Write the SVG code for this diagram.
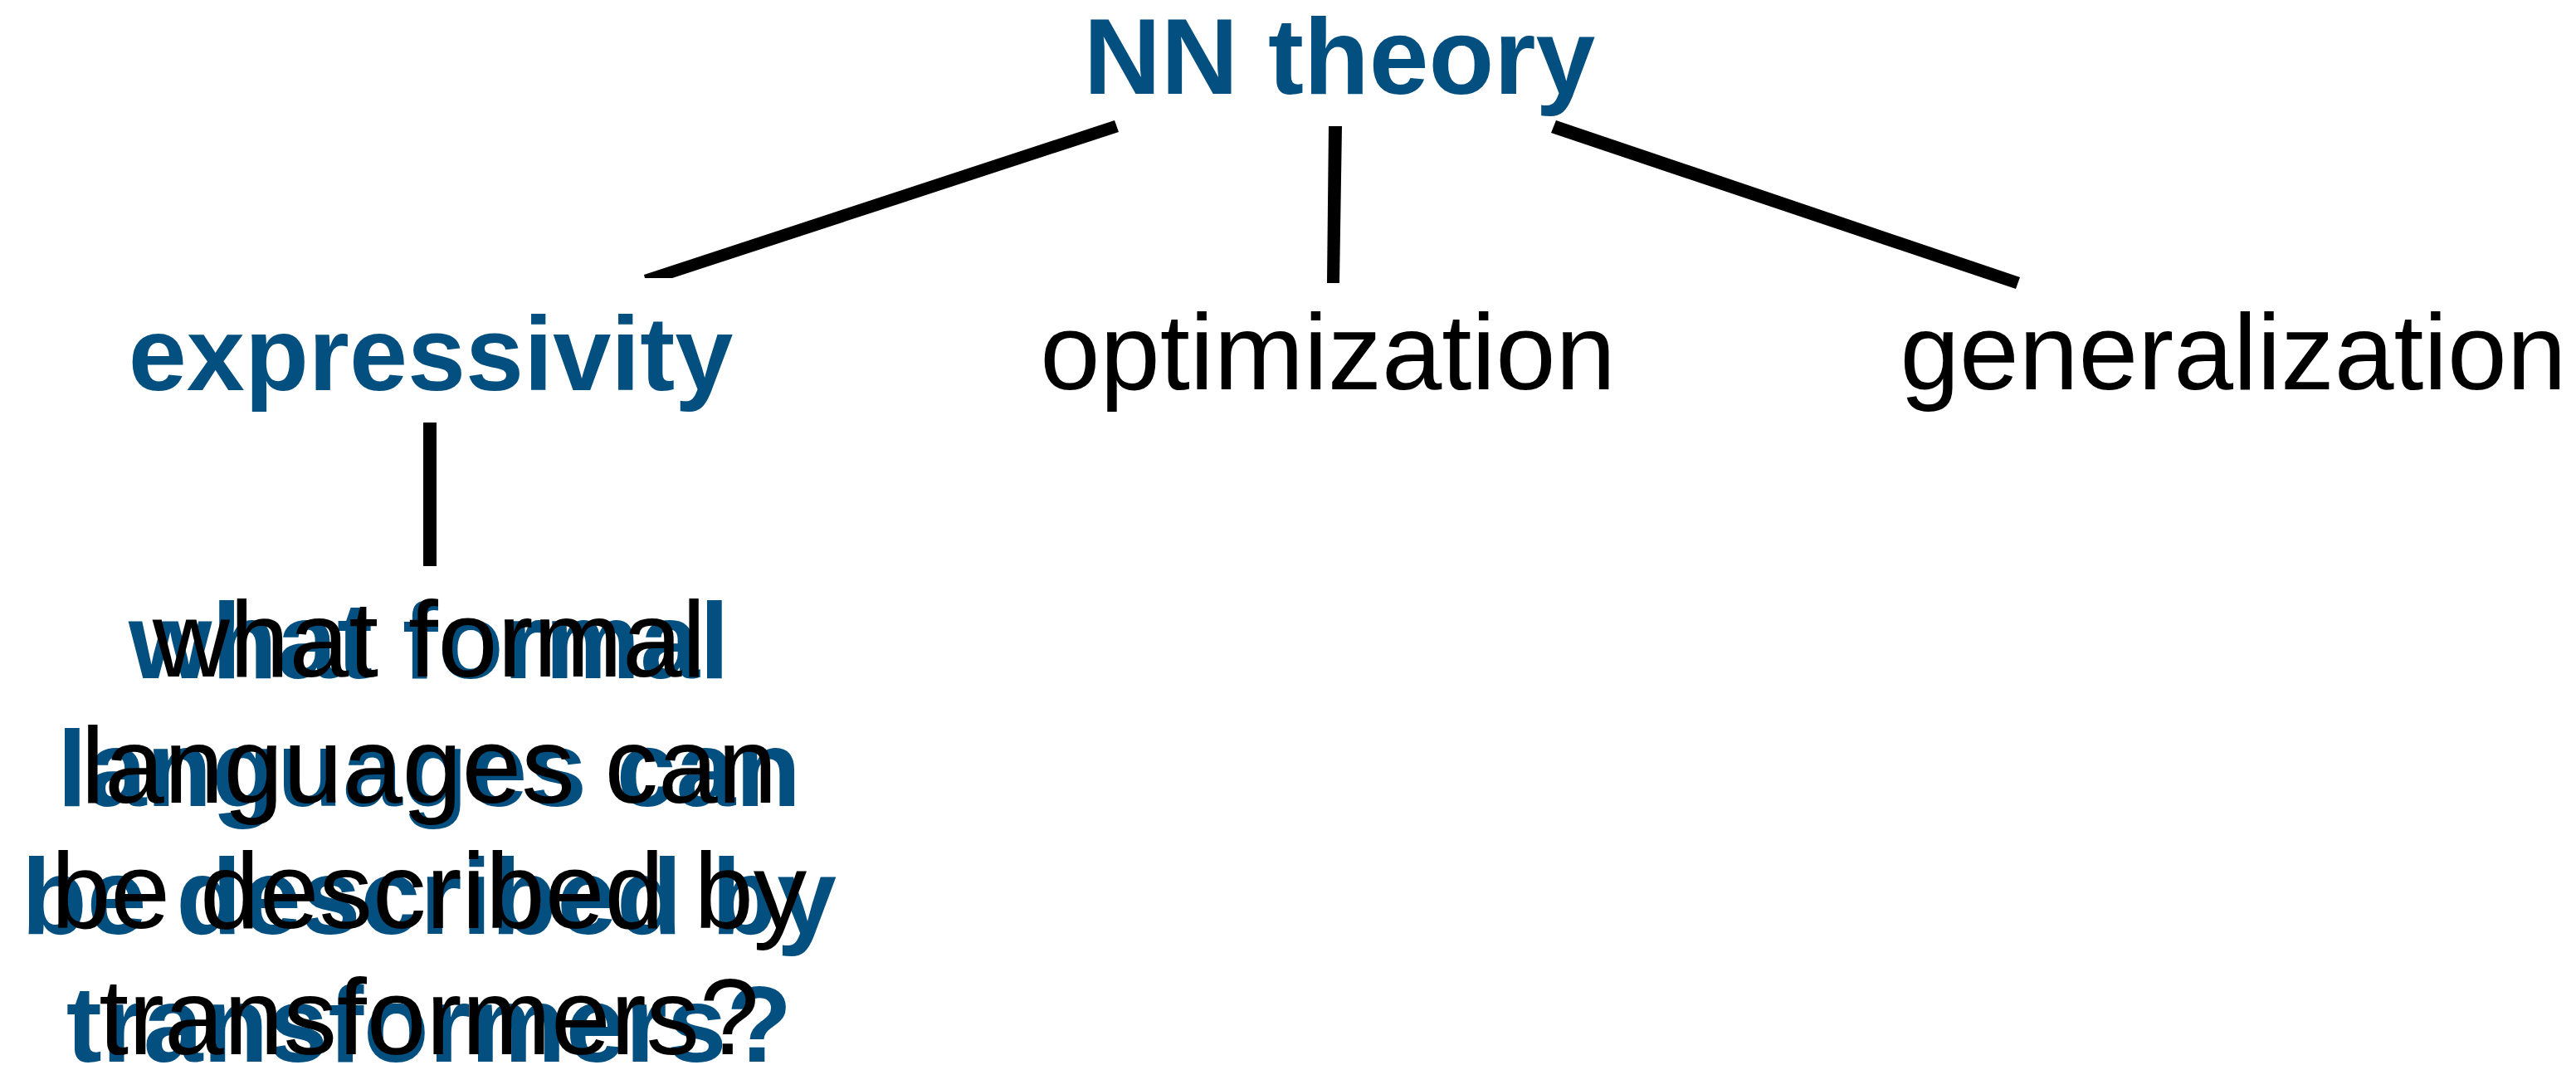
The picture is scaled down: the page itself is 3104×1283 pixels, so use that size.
<svg xmlns="http://www.w3.org/2000/svg" width="3104" height="1283" viewBox="0 0 3104 1283">
<style>
.t{font-family:"Liberation Sans",Arial,Helvetica,sans-serif;font-size:129px;text-anchor:middle}
.b{font-weight:bold;fill:#034f80}
.k{fill:#000}
.c{fill:#000;stroke:none}
</style>
<rect width="3104" height="1283" fill="#fff"/>
<g id="connectors">
<polygon class="c" points="776,331 1343,145 1348,159 810,335 777,335"/>
<polygon class="c" points="1601,152 1617,152 1614,341 1599,341"/>
<polygon class="c" points="1875,145 2434,334 2429,348 1869,160"/>
<rect class="c" x="510" y="509" width="16" height="173"/>
</g>
<g id="node-nn-theory">
<text class="t b" x="1614" y="113">NN theory</text>
</g>
<g id="node-expressivity">
<text class="t b" x="519" y="470" style="font-size:126px">expressivity</text>
</g>
<g id="node-optimization">
<text class="t k" x="1600" y="469" style="font-size:130px">optimization</text>
</g>
<g id="node-generalization">
<text class="t k" x="2691" y="469">generalization</text>
</g>
<g id="node-question">
<text class="t b" x="517"><tspan x="517" y="817">what formal</tspan><tspan x="517" y="971">languages can</tspan><tspan x="517" y="1125">be described by</tspan><tspan x="517" y="1279">transformers?</tspan></text>
<text class="t k" x="517"><tspan x="517" y="815">what formal</tspan><tspan x="517" y="967">languages can</tspan><tspan x="517" y="1118">be described by</tspan><tspan x="517" y="1270">transformers?</tspan></text>
</g>
</svg>
